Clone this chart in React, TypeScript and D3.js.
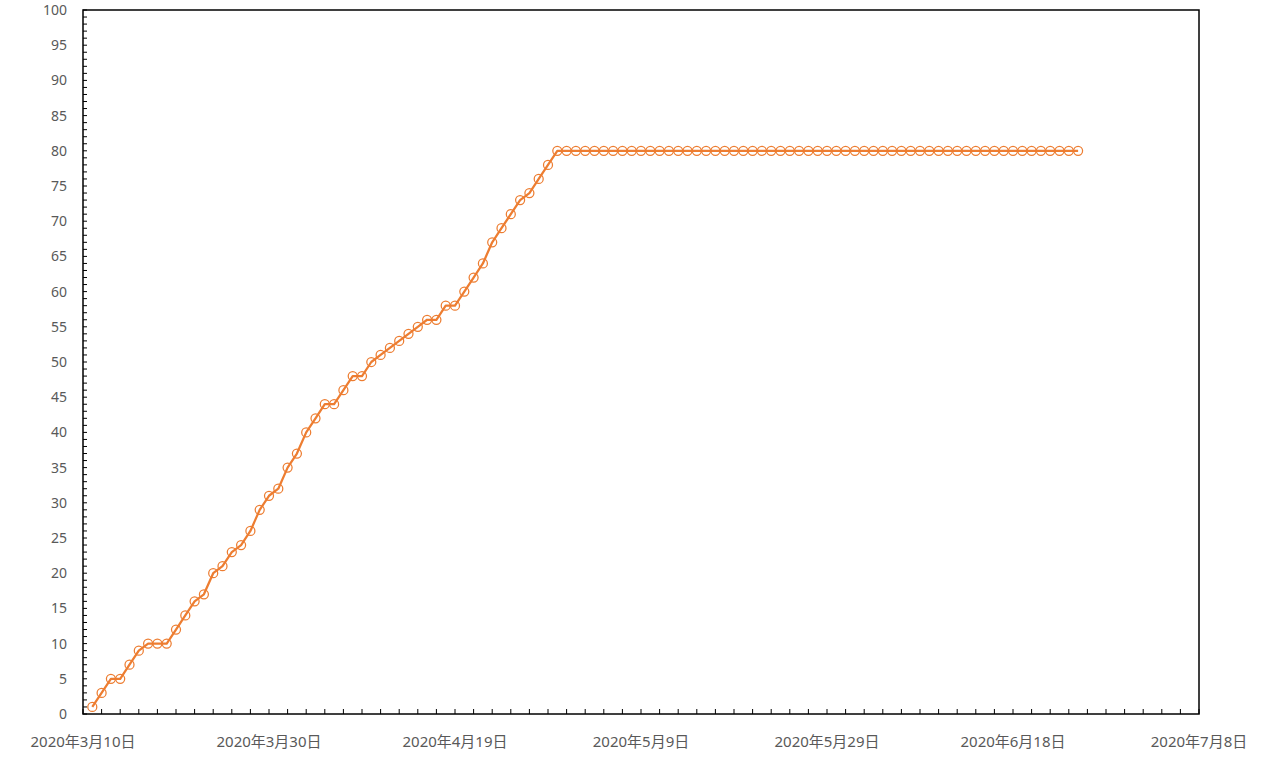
import React from "react";
import * as d3 from "d3";

const startDate = "2020-03-11";
const values: number[] = [
  1, 3, 5, 5, 7, 9, 10, 10, 10, 12,
  14, 16, 17, 20, 21, 23, 24, 26, 29, 31,
  32, 35, 37, 40, 42, 44, 44, 46, 48, 48,
  50, 51, 52, 53, 54, 55, 56, 56, 58, 58,
  60, 62, 64, 67, 69, 71, 73, 74, 76, 78,
  80, 80, 80, 80, 80, 80, 80, 80, 80, 80,
  80, 80, 80, 80, 80, 80, 80, 80, 80, 80,
  80, 80, 80, 80, 80, 80, 80, 80, 80, 80,
  80, 80, 80, 80, 80, 80, 80, 80, 80, 80,
  80, 80, 80, 80, 80, 80, 80, 80, 80, 80,
  80, 80, 80, 80, 80, 80, 80,
];
const xDomain = ["2020-03-10", "2020-07-08"];
const xLabelDates = ["2020-03-10", "2020-03-30", "2020-04-19", "2020-05-09", "2020-05-29", "2020-06-18", "2020-07-08"];
const yTicks = [0, 5, 10, 15, 20, 25, 30, 35, 40, 45, 50, 55, 60, 65, 70, 75, 80, 85, 90, 95, 100];

const parse = (s: string) => {
  const [y, m, d] = s.split("-").map(Number);
  return new Date(Date.UTC(y, m - 1, d));
};

export default function App() {
  const W = 1280, H = 764;
  const left = 83, right = 1199, top = 10, bottom = 714;
  const x = d3.scaleUtc().domain(xDomain.map(parse)).range([left, right]);
  const y = d3.scaleLinear().domain([0, 100]).range([bottom, top]);
  const start = parse(startDate);
  const pts = values.map((v, i) => ({ date: d3.utcDay.offset(start, i), v }));
  const line = d3.line<{ date: Date; v: number }>().x((d) => x(d.date)).y((d) => y(d.v));
  const minorX = d3.utcDay.every(2)!.range(parse(xDomain[0]), d3.utcDay.offset(parse(xDomain[1]), 1));
  // use day steps of 2 from start of domain
  const xTickDates: Date[] = [];
  for (let t = parse(xDomain[0]); t <= parse(xDomain[1]); t = d3.utcDay.offset(t, 2)) xTickDates.push(t);
  const minorY = d3.range(0, 101, 1);
  const color = "#ED7D31";
  const fmt = (d: Date) => `${d.getUTCFullYear()}年${d.getUTCMonth() + 1}月${d.getUTCDate()}日`;
  void minorX;
  return (
    <svg width={W} height={H} style={{ position: "absolute", left: 0, top: 0, background: "#fff" }}>
      <rect x={0} y={0} width={W} height={H} fill="#fff" />
      {minorY.map((t) => (
        <line key={"yt" + t} x1={left} x2={left + 4} y1={y(t)} y2={y(t)} stroke="#000" strokeWidth={1} />
      ))}
      {xTickDates.map((t, i) => (
        <line key={"xt" + i} x1={x(t)} x2={x(t)} y1={bottom} y2={bottom - 5} stroke="#000" strokeWidth={1} />
      ))}
      <rect x={left} y={top} width={right - left} height={bottom - top} fill="none" stroke="#000" strokeWidth={1.5} />
      {yTicks.map((t) => (
        <text key={"yl" + t} x={left - 16} y={y(t)} dy="0.35em" textAnchor="end" fontSize={14}
          fontFamily="'Noto Sans', sans-serif" fill="#595959">{t}</text>
      ))}
      {xLabelDates.map((s) => (
        <text key={"xl" + s} x={x(parse(s))} y={747} textAnchor="middle" fontSize={15}
          fontFamily="'Noto Sans', 'Noto Sans CJK SC', sans-serif" fill="#595959">{fmt(parse(s))}</text>
      ))}
      <path d={line(pts) || ""} fill="none" stroke={color} strokeWidth={2.25} strokeLinejoin="round" />
      {pts.map((p, i) => (
        <circle key={"c" + i} cx={x(p.date)} cy={y(p.v)} r={4.5} fill="none" stroke={color} strokeWidth={1.25} />
      ))}
    </svg>
  );
}
